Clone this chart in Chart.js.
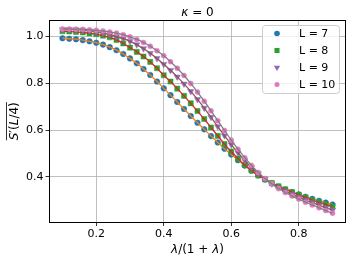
<!DOCTYPE html>
<html>
<head>
<meta charset="utf-8">
<script src="https://cdn.jsdelivr.net/npm/chart.js@4.4.1/dist/chart.umd.min.js"></script>
<style>
  html, body { margin: 0; padding: 0; background: #fff; }
  #wrap { width: 354px; height: 262px; }
</style>
</head>
<body>
<div id="wrap"><canvas id="chart" width="354" height="262"></canvas></div>
<script>
// lambda / (1 + lambda)
const lambdaRatio = [
  0.10, 0.12, 0.14, 0.16, 0.18, 0.20, 0.22, 0.24, 0.26, 0.28,
  0.30, 0.32, 0.34, 0.36, 0.38, 0.40, 0.42, 0.44, 0.46, 0.48,
  0.50, 0.52, 0.54, 0.56, 0.58, 0.60, 0.62, 0.64, 0.66, 0.68,
  0.70, 0.72, 0.74, 0.76, 0.78, 0.80, 0.82, 0.84, 0.86, 0.88, 0.90
];

// S'(L/4) for each L
const sL7 = [
  0.992, 0.990, 0.988, 0.984, 0.979, 0.973, 0.965, 0.954, 0.941, 0.925,
  0.906, 0.885, 0.861, 0.835, 0.807, 0.778, 0.749, 0.720, 0.690, 0.660,
  0.631, 0.603, 0.574, 0.547, 0.520, 0.495, 0.471, 0.448, 0.426, 0.406,
  0.389, 0.372, 0.358, 0.346, 0.335, 0.325, 0.315, 0.306, 0.298, 0.290, 0.282
];
const sL8 = [
  1.022, 1.021, 1.019, 1.017, 1.013, 1.009, 1.003, 0.996, 0.985, 0.970,
  0.952, 0.934, 0.914, 0.891, 0.864, 0.834, 0.807, 0.777, 0.746, 0.714,
  0.681, 0.647, 0.611, 0.575, 0.540, 0.508, 0.478, 0.451, 0.427, 0.406,
  0.389, 0.374, 0.360, 0.347, 0.335, 0.323, 0.312, 0.301, 0.291, 0.282, 0.273
];
const sL9 = [
  1.030, 1.030, 1.029, 1.027, 1.024, 1.020, 1.014, 1.007, 0.999, 0.990,
  0.979, 0.965, 0.948, 0.928, 0.906, 0.881, 0.855, 0.827, 0.797, 0.765,
  0.731, 0.694, 0.655, 0.615, 0.576, 0.538, 0.503, 0.470, 0.440, 0.414,
  0.391, 0.371, 0.354, 0.339, 0.325, 0.313, 0.301, 0.290, 0.279, 0.268, 0.258
];
const sL10 = [
  1.032, 1.032, 1.031, 1.030, 1.028, 1.026, 1.023, 1.019, 1.014, 1.007,
  0.998, 0.987, 0.974, 0.958, 0.939, 0.917, 0.892, 0.864, 0.833, 0.799,
  0.762, 0.723, 0.682, 0.640, 0.598, 0.557, 0.518, 0.482, 0.449, 0.419,
  0.393, 0.370, 0.350, 0.333, 0.318, 0.305, 0.292, 0.280, 0.268, 0.256, 0.245
];

const seriesNames = ["L = 7", "L = 8", "L = 9", "L = 10"];
const xTicks = [0.2, 0.4, 0.6, 0.8];
const yTicks = [0.4, 0.6, 0.8, 1.0];

const FONT = "DejaVu Sans";

// marker + fit line look for each L
const looks = [
  { mark: "#1f77b4", fit: "#ff7f0e", style: "circle", r: 2.8, rot: 0 },
  { mark: "#2ca02c", fit: "#d62728", style: "rect", r: 3.6, rot: 0 },
  { mark: "#9467bd", fit: "#8c564b", style: "triangle", r: 3.6, rot: 180 },
  { mark: "#e377c2", fit: "#7f7f7f", style: "circle", r: 2.5, rot: 0 }
];

const allSeries = [sL7, sL8, sL9, sL10];

const toXY = (ys) => ys.map((y, i) => ({ x: lambdaRatio[i], y: y }));

const datasets = [];
allSeries.forEach((ys, k) => {
  const lk = looks[k];
  datasets.push({
    label: seriesNames[k],
    data: toXY(ys),
    showLine: false,
    pointStyle: lk.style,
    pointRotation: lk.rot,
    pointRadius: lk.r,
    pointBackgroundColor: lk.mark,
    pointBorderColor: lk.mark,
    pointBorderWidth: 0.5,
    order: 8 - 2 * k
  });
  datasets.push({
    label: seriesNames[k] + " fit",
    data: toXY(ys),
    showLine: true,
    pointRadius: 0,
    borderColor: lk.fit,
    borderWidth: 1.3,
    cubicInterpolationMode: "monotone",
    order: 7 - 2 * k
  });
});

function drawParts(ctx, parts, x, y, size) {
  const fonts = parts.map(p => (p[1] ? "italic " : "") + size + "px '" + FONT + "'");
  let total = 0;
  const widths = parts.map((p, i) => {
    ctx.font = fonts[i];
    const w = ctx.measureText(p[0]).width;
    total += w;
    return w;
  });
  let cx = x - total / 2;
  parts.forEach((p, i) => {
    ctx.font = fonts[i];
    ctx.fillText(p[0], cx, y);
    cx += widths[i];
  });
  return total;
}

function drawMarker(ctx, style, x, y, r, color) {
  ctx.fillStyle = color;
  ctx.beginPath();
  if (style === "circle") {
    ctx.arc(x, y, r, 0, Math.PI * 2);
  } else if (style === "rect") {
    const s = r * Math.SQRT1_2;
    ctx.rect(x - s, y - s, 2 * s, 2 * s);
  } else {
    const h = r * Math.sqrt(3) / 2;
    ctx.moveTo(x - h, y - r / 2);
    ctx.lineTo(x + h, y - r / 2);
    ctx.lineTo(x, y + r);
    ctx.closePath();
  }
  ctx.fill();
}

// frame on all four sides, above the data
const framePlugin = {
  id: "framePlugin",
  afterDatasetsDraw(chart) {
    const { ctx, chartArea: a } = chart;
    ctx.save();
    ctx.strokeStyle = "#000";
    ctx.lineWidth = 1;
    const l = Math.round(a.left) + 0.5, t = Math.round(a.top) + 0.5;
    const r = Math.round(a.right) - 0.5, b = Math.round(a.bottom) - 0.5;
    ctx.strokeRect(l, t, r - l, b - t);
    ctx.restore();
  }
};

// title, axis labels, legend inside the plot
const textPlugin = {
  id: "textPlugin",
  afterDraw(chart) {
    const { ctx, chartArea: a } = chart;
    const cx = (a.left + a.right) / 2;
    ctx.save();
    ctx.fillStyle = "#000";
    ctx.textAlign = "left";
    ctx.textBaseline = "alphabetic";

    drawParts(ctx, [["κ", true], [" = 0", false]], cx, 15.5, 12);
    drawParts(ctx, [["λ", true], ["/(1 + ", false], ["λ", true], [")", false]], cx, 253, 12);

    ctx.save();
    ctx.translate(18, (a.top + a.bottom) / 2);
    ctx.rotate(-Math.PI / 2);
    const w = drawParts(ctx, [["S", true], ["′(", false], ["L", true], ["/4)", false]], 0, 0, 12);
    ctx.strokeStyle = "#000";
    ctx.lineWidth = 0.8;
    ctx.beginPath();
    ctx.moveTo(-w / 2, -11.5);
    ctx.lineTo(w / 2, -11.5);
    ctx.stroke();
    ctx.restore();

    // legend box
    const bx = Math.round(a.right) - 83.5, by = Math.round(a.top) + 5.5;
    const bw = 77, bh = 68;
    ctx.beginPath();
    ctx.roundRect(bx, by, bw, bh, 3);
    ctx.fillStyle = "rgba(255,255,255,0.8)";
    ctx.fill();
    ctx.strokeStyle = "#cccccc";
    ctx.lineWidth = 1;
    ctx.stroke();

    seriesNames.forEach((name, k) => {
      const yy = by + 8 + k * 17;
      const lk = looks[k];
      drawMarker(ctx, lk.style, bx + 14.5, yy, lk.r, lk.mark);
      ctx.fillStyle = "#000";
      ctx.font = "11px '" + FONT + "'";
      ctx.textBaseline = "middle";
      ctx.fillText(name, bx + 36.5, yy + 0.5);
    });
    ctx.restore();
  }
};

const tickFont = { family: FONT, size: 11 };

new Chart(document.getElementById("chart"), {
  type: "scatter",
  data: { datasets: datasets },
  options: {
    responsive: false,
    animation: false,
    layout: { padding: { top: 20, right: 8, left: 0, bottom: 0 } },
    plugins: {
      legend: { display: false },
      tooltip: { enabled: false },
      title: { display: false }
    },
    scales: {
      x: {
        type: "linear",
        min: 0.06,
        max: 0.94,
        afterBuildTicks: (s) => { s.ticks = xTicks.map(v => ({ value: v })); },
        afterFit: (s) => { s.height = 39.5; },
        grid: { color: "#b0b0b0", lineWidth: 0.8, tickColor: "#000", tickLength: 3.5, tickWidth: 0.8 },
        border: { display: false },
        ticks: { color: "#000", font: tickFont, padding: 2, maxRotation: 0, callback: (v) => v.toFixed(1) }
      },
      y: {
        type: "linear",
        min: 0.205,
        max: 1.07,
        afterBuildTicks: (s) => { s.ticks = yTicks.map(v => ({ value: v })); },
        afterFit: (s) => { s.width = 49; },
        grid: { color: "#b0b0b0", lineWidth: 0.8, tickColor: "#000", tickLength: 3.5, tickWidth: 0.8 },
        border: { display: false },
        ticks: { color: "#000", font: tickFont, padding: 2, callback: (v) => v.toFixed(1) }
      }
    }
  },
  plugins: [framePlugin, textPlugin]
});
</script>
</body>
</html>
